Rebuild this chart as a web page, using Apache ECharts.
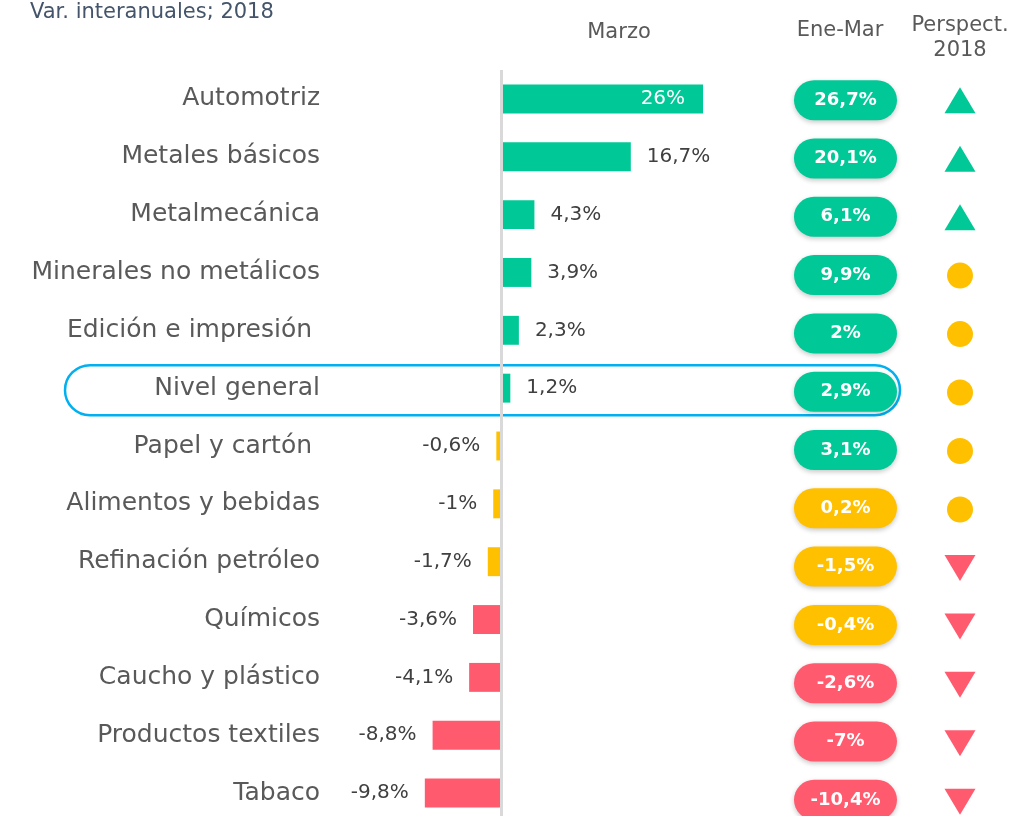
<!DOCTYPE html>
<html><head><meta charset="utf-8">
<script src="https://cdn.jsdelivr.net/npm/echarts@6/dist/echarts.min.js"></script>
<style>html,body{margin:0;padding:0;background:#fff}#c{width:1015px;height:816px}</style>
</head><body><div id="c"></div>
<script>
const categories = ['Automotriz','Metales básicos','Metalmecánica','Minerales no metálicos','Edición e impresión ','Nivel general','Papel y cartón ','Alimentos y bebidas','Refinación petróleo','Químicos','Caucho y plástico','Productos textiles','Tabaco'];
const marzo = [26, 16.7, 4.3, 3.9, 2.3, 1.2, -0.6, -1, -1.7, -3.6, -4.1, -8.8, -9.8];
const eneMar = [26.7, 20.1, 6.1, 9.9, 2, 2.9, 3.1, 0.2, -1.5, -0.4, -2.6, -7, -10.4];
const perspectiva = ['up','up','up','neutral','neutral','neutral','neutral','neutral','down','down','down','down','down'];
const headers = ['Marzo', 'Ene-Mar', 'Perspect.\n2018'];
const titleText = 'Var. interanuales; 2018';
const highlighted = 'Nivel general';

const FONT = "'DejaVu Sans', sans-serif";
const GREEN = '#00C896', YELLOW = '#FFC000', RED = '#FF5A6E';
const fmt = v => String(v).replace('.', ',') + '%';
const barColor = v => v > 0 ? GREEN : (v > -2 ? YELLOW : RED);
const pillColor = v => v >= 1 ? GREEN : (v > -2 ? YELLOW : RED);
const PILL = 'path://M20,0 L83,0 A20,20 0 0 1 83,40 L20,40 A20,20 0 0 1 20,0 Z';

const chart = echarts.init(document.getElementById('c'));

const barData = marzo.map(v => {
  const inside = v >= 20;
  return {
    value: v,
    itemStyle: { color: barColor(v) },
    label: inside
      ? { position: 'insideRight', color: '#fff', distance: 18 }
      : { position: v >= 0 ? 'right' : 'left', color: '#404040', distance: 16 }
  };
});

const pillData = eneMar.map((v, i) => ({
  value: [0, i, v],
  itemStyle: { color: pillColor(v) }
}));

const perspData = perspectiva.map((p, i) => {
  if (p === 'up') return { value: [0, i], symbol: 'triangle', symbolSize: [31, 26], itemStyle: { color: GREEN } };
  if (p === 'down') return { value: [0, i], symbol: 'triangle', symbolRotate: 180, symbolSize: [31, 26], itemStyle: { color: RED } };
  return { value: [0, i], symbol: 'circle', symbolSize: 26, itemStyle: { color: YELLOW } };
});

const hiddenCatY = idx => ({
  type: 'category', gridIndex: idx, data: categories, inverse: true, show: false
});

chart.setOption({
  animation: false,
  textStyle: { fontFamily: FONT },
  grid: [
    { left: 330, top: 70, width: 684, height: 752, outerBoundsMode: 'none', containLabel: false },
    { left: 794, top: 71, width: 103, height: 758, outerBoundsMode: 'none', containLabel: false },
    { left: 944, top: 71, width: 32, height: 760, outerBoundsMode: 'none', containLabel: false }
  ],
  xAxis: [
    { type: 'value', gridIndex: 0, min: -22, max: 66, show: false },
    { type: 'category', gridIndex: 1, data: [headers[1]], show: false },
    { type: 'category', gridIndex: 2, data: [headers[2]], show: false }
  ],
  yAxis: [
    {
      type: 'category', gridIndex: 0, data: categories, inverse: true,
      axisLine: { show: false, onZero: false }, axisTick: { show: false },
      axisLabel: { margin: 10, fontSize: 25, color: '#595959', fontFamily: FONT, padding: [8, 0, 0, 0] }
    },
    hiddenCatY(1),
    hiddenCatY(2)
  ],
  series: [
    {
      type: 'bar', xAxisIndex: 0, yAxisIndex: 0, barWidth: '50%',
      data: barData,
      label: { show: true, formatter: p => fmt(p.value), fontSize: 20, fontFamily: FONT },
      markLine: {
        silent: true, symbol: ['none', 'none'],
        label: { show: false },
        lineStyle: { color: '#D9D9D9', width: 3, type: 'solid' },
        data: [{ xAxis: 0 }]
      },
      z: 3
    },
    {
      type: 'scatter', xAxisIndex: 1, yAxisIndex: 1,
      symbol: PILL, symbolSize: [103, 40],
      data: pillData,
      itemStyle: { opacity: 1, shadowBlur: 5, shadowColor: 'rgba(0,0,0,0.22)', shadowOffsetY: 2 },
      label: {
        show: true, position: 'inside', formatter: p => fmt(p.value[2]),
        color: '#fff', fontWeight: 'bold', fontSize: 18, fontFamily: FONT
      },
      z: 4
    },
    {
      type: 'scatter', xAxisIndex: 2, yAxisIndex: 2,
      itemStyle: { opacity: 1 },
      data: perspData, z: 4
    }
  ]
});

const rowPt = chart.convertToPixel({ gridIndex: 0 }, [0, highlighted]);
const pillRight = chart.convertToPixel({ gridIndex: 1 }, [0, categories.indexOf(highlighted)]);
const cy = rowPt[1] + 2;

chart.setOption({
  graphic: [
    { type: 'text', left: 30, top: 2, style: { text: titleText, fill: '#44546A', fontSize: 21, fontFamily: FONT } },
    { type: 'text', x: 619, y: 33, style: { text: headers[0], fill: '#595959', fontSize: 21, fontFamily: FONT, align: 'center', verticalAlign: 'middle' } },
    { type: 'text', x: 840, y: 31, style: { text: headers[1], fill: '#595959', fontSize: 21, fontFamily: FONT, align: 'center', verticalAlign: 'middle' } },
    { type: 'text', x: 960, y: 38, style: { text: headers[2], fill: '#595959', fontSize: 21, lineHeight: 25, fontFamily: FONT, align: 'center', verticalAlign: 'middle' } },
    {
      type: 'rect', z: 0,
      shape: { x: 65, y: cy - 25, width: pillRight[0] + 54.5 - 65, height: 50, r: 25 },
      style: { fill: 'none', stroke: '#00B0F0', lineWidth: 2.5 }
    }
  ]
});
</script></body></html>
